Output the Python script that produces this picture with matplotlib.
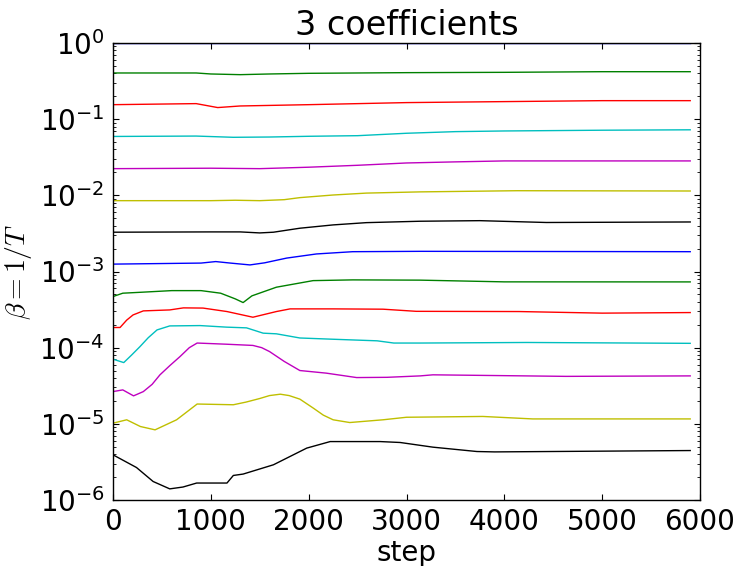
import matplotlib
matplotlib.use("Agg")
import matplotlib.pyplot as plt

plt.rcParams.update({
    "font.family": ["DejaVu Sans"],
    "mathtext.fontset": "cm",
    "axes.unicode_minus": False,
    "xtick.direction": "in",
    "ytick.direction": "in",
    "xtick.top": True,
    "ytick.right": True,
    "xtick.major.size": 4,
    "ytick.major.size": 4,
    "xtick.minor.size": 2,
    "ytick.minor.size": 2,
    "xtick.major.pad": 6,
    "ytick.major.pad": 6,
    "axes.linewidth": 1.0,
})

# ---- data (step, beta) per temperature chain, top to bottom ----
steps_00 = [0, 5900]
beta_00 = [1.0, 1.0]

steps_01 = [0, 850, 1000, 1300, 1600, 2000, 3000, 4000, 5000, 5900]
beta_01 = [0.404, 0.404, 0.392, 0.384, 0.392, 0.400, 0.408, 0.412, 0.420, 0.420]

steps_02 = [0, 850, 1070, 1300, 2000, 3000, 4000, 5000, 5900]
beta_02 = [0.155, 0.160, 0.142, 0.149, 0.155, 0.165, 0.170, 0.175, 0.175]

steps_03 = [0, 850, 1230, 1600, 2000, 2500, 3000, 3500, 4000, 5000, 5900]
beta_03 = [0.0593, 0.0600, 0.0578, 0.0583, 0.0596, 0.0607, 0.0653, 0.0686, 0.0700, 0.0716, 0.0725]

steps_04 = [0, 1000, 1500, 2000, 2500, 3000, 3500, 4000, 5900]
beta_04 = [0.0224, 0.0227, 0.0224, 0.0234, 0.0248, 0.0266, 0.0275, 0.0283, 0.0283]

steps_05 = [0, 1000, 1250, 1500, 1750, 1910, 2250, 2590, 3140, 4130, 5900]
beta_05 = [0.00851, 0.00851, 0.00862, 0.00851, 0.00877, 0.00933, 0.0101, 0.0107, 0.0111, 0.0115, 0.0114]

steps_06 = [0, 1000, 1300, 1500, 1640, 1910, 2250, 2590, 3140, 3750, 4430, 5900]
beta_06 = [0.00328, 0.00331, 0.00331, 0.00321, 0.00328, 0.00370, 0.00409, 0.00438, 0.00457, 0.00465, 0.00440, 0.00447]

steps_07 = [0, 900, 1050, 1200, 1400, 1550, 1775, 2080, 2450, 3140, 5900]
beta_07 = [0.00125, 0.00129, 0.00135, 0.00129, 0.00122, 0.00130, 0.00150, 0.00170, 0.00182, 0.00184, 0.00182]

steps_08 = [0, 100, 300, 600, 900, 1100, 1250, 1330, 1420, 1670, 2045, 2450, 3140, 4000, 5900]
beta_08 = [4.69e-4, 5.19e-4, 5.35e-4, 5.61e-4, 5.61e-4, 5.19e-4, 4.37e-4, 3.91e-4, 4.79e-4,
           6.22e-4, 7.59e-4, 7.76e-4, 7.70e-4, 7.31e-4, 7.30e-4]

steps_09 = [0, 72, 140, 205, 310, 580, 720, 920, 1165, 1430, 1670, 1810, 2250, 2760, 3100, 4150, 5000, 5900]
beta_09 = [1.84e-4, 1.84e-4, 2.30e-4, 2.69e-4, 3.04e-4, 3.13e-4, 3.33e-4, 3.31e-4, 2.98e-4, 2.51e-4,
           2.98e-4, 3.23e-4, 3.23e-4, 3.20e-4, 3.00e-4, 2.98e-4, 2.84e-4, 2.89e-4]

steps_10 = [0, 110, 190, 275, 360, 450, 580, 890, 1160, 1365, 1535, 1670, 1910, 2250, 2700, 2870, 3140, 4230, 5900]
beta_10 = [7.06e-5, 6.37e-5, 8.00e-5, 1.03e-4, 1.35e-4, 1.71e-4, 1.93e-4, 1.95e-4, 1.86e-4, 1.82e-4, 1.55e-4,
           1.52e-4, 1.34e-4, 1.29e-4, 1.23e-4, 1.15e-4, 1.15e-4, 1.17e-4, 1.14e-4]

steps_11 = [0, 100, 210, 310, 400, 480, 580, 685, 780, 860, 1160, 1430, 1520, 1600, 1750, 1910,
            2180, 2490, 2800, 3140, 3270, 4630, 5900]
beta_11 = [2.65e-5, 2.79e-5, 2.33e-5, 2.65e-5, 3.30e-5, 4.40e-5, 5.80e-5, 7.64e-5, 1.00e-4, 1.15e-4,
           1.11e-4, 1.07e-4, 1.00e-4, 8.89e-5, 6.60e-5, 5.01e-5,
           4.63e-5, 4.05e-5, 4.08e-5, 4.26e-5, 4.40e-5, 4.20e-5, 4.26e-5]

steps_12 = [0, 140, 280, 430, 650, 860, 1230, 1360, 1500, 1600, 1710, 1800, 1910, 2050, 2150, 2250,
            2420, 2760, 3000, 3780, 4290, 5900]
beta_12 = [1.02e-5, 1.13e-5, 9.22e-6, 8.34e-6, 1.13e-5, 1.82e-5, 1.78e-5, 1.93e-5, 2.15e-5, 2.35e-5,
           2.45e-5, 2.35e-5, 2.11e-5, 1.60e-5, 1.30e-5, 1.13e-5,
           1.04e-5, 1.13e-5, 1.22e-5, 1.25e-5, 1.16e-5, 1.16e-5]

steps_13 = [0, 240, 410, 580, 715, 855, 1165, 1230, 1330, 1640, 1980, 2220, 2730, 2935, 3270, 3720, 3900, 5900]
beta_13 = [3.92e-6, 2.67e-6, 1.75e-6, 1.40e-6, 1.48e-6, 1.67e-6, 1.67e-6, 2.10e-6, 2.19e-6,
           2.90e-6, 4.80e-6, 5.85e-6, 5.85e-6, 5.69e-6, 4.94e-6, 4.33e-6, 4.28e-6, 4.46e-6]

all_steps = [steps_00, steps_01, steps_02, steps_03, steps_04, steps_05, steps_06,
             steps_07, steps_08, steps_09, steps_10, steps_11, steps_12, steps_13]
all_betas = [beta_00, beta_01, beta_02, beta_03, beta_04, beta_05, beta_06,
             beta_07, beta_08, beta_09, beta_10, beta_11, beta_12, beta_13]

colors = ["b", "g", "r", "c", "m", "y", "k"]
color_map = {"b": (0, 0, 1), "g": (0, 0.5, 0), "r": (1, 0, 0), "c": (0, 0.75, 0.75),
             "m": (0.75, 0, 0.75), "y": (0.75, 0.75, 0), "k": (0, 0, 0)}

fig = plt.figure(figsize=(7.4, 5.66), dpi=100)
ax = fig.add_axes([113 / 740, 1 - 500 / 566, (700 - 113) / 740, (500 - 43) / 566])

for i, (s, b) in enumerate(zip(all_steps, all_betas)):
    ax.plot(s, b, color=color_map[colors[i % 7]], lw=1.0)

ax.set_yscale("log")
ax.set_ylim(1e-6, 1)
ax.set_xlim(0, 6000)
ax.set_xticks([0, 1000, 2000, 3000, 4000, 5000, 6000])
ax.tick_params(axis="both", which="major", labelsize=20)
ax.set_title("3 coefficients", fontsize=24)
ax.set_xlabel("step", fontsize=20, labelpad=2)
ax.set_ylabel(r"$\beta = 1/T$", fontsize=20)

fig.savefig("out.png", dpi=100, facecolor="white")
